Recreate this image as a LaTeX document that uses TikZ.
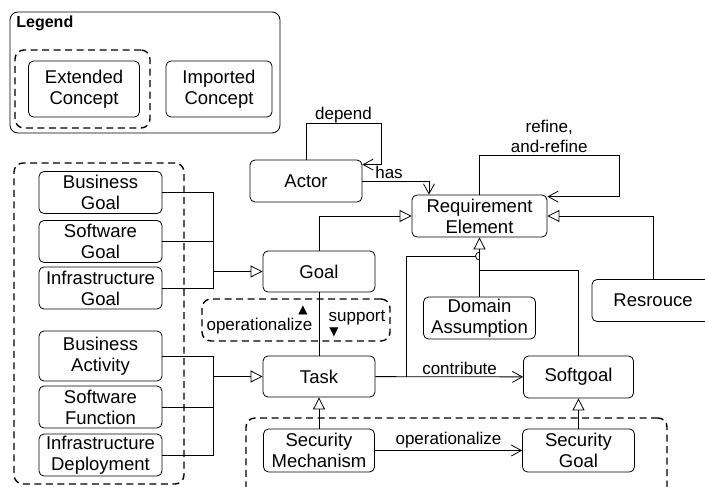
\documentclass[tikz,border=0pt]{standalone}
\usepackage{fontspec}
\setmainfont{Liberation Sans}
\newfontfamily\symfont{DejaVu Sans}
\usetikzlibrary{arrows.meta, positioning}

\begin{document}
\begin{tikzpicture}[x=1pt, y=-1pt, line width=0.8pt,
    concept/.style={draw, rectangle, rounded corners=5pt, align=center, inner sep=0pt,
        minimum width=112pt, minimum height=42pt, font=\fontsize{18.5}{21}\selectfont},
    wide/.style={minimum width=123pt},
    lbl/.style={font=\fontsize{17}{20}\selectfont, inner sep=2pt},
    dirmark/.style={font=\symfont\fontsize{12}{12}\selectfont, inner sep=0pt},
    group/.style={draw, line width=1.4pt, dash pattern=on 7pt off 4.5pt, rounded corners=9pt},
    gen/.style={-{Triangle[open, length=12pt, width=12pt]}},
    assoc/.style={-{Straight Barb[length=10pt, width=11pt]}}]
    \useasboundingbox (0,0) rectangle (705,487);

    % Legend
    \node (legendbox) [draw, rounded corners=8pt, minimum width=270pt, minimum height=121pt] at (145,72.5) {};
    \node (legend) [anchor=base west, inner sep=0pt, font=\bfseries\fontsize{16}{19}\selectfont] at (16,28) {Legend};
    \node (extgroup) [group, minimum width=135pt, minimum height=78pt] at (82.5,89) {};
    \node (ext) [concept, minimum width=111pt, minimum height=56pt] at (84,89) {Extended\\Concept};
    \node (imp) [concept, minimum width=106pt, minimum height=56pt] at (219,89) {Imported\\Concept};

    % Extended goals and tasks
    \node (leftgroup) [group, minimum width=170pt, minimum height=321pt] at (99,323.5) {};
    \node (bgoal) [concept, wide] at (100.5,192.5) {Business\\Goal};
    \node (sgoal) [concept, wide] at (100.5,241.5) {Software\\Goal};
    \node (igoal) [concept, wide] at (100.5,288) {Infrastructure\\Goal};
    \node (bact) [concept, wide, minimum height=50pt] at (100.5,356) {Business\\Activity};
    \node (sfunc) [concept, wide] at (100.5,407) {Software\\Function};
    \node (ideploy) [concept, wide] at (100.5,455) {Infrastructure\\Deployment};

    % Imported concepts
    \node (actor) [concept] at (306,181) {Actor};
    \node (req) [concept, minimum width=135pt] at (479.5,216) {Requirement\\Element};
    \node (res) [concept, minimum width=122pt] at (653,300.5) {Resrouce};
    \node (dom) [concept] at (479.5,318) {Domain\\Assumption};
    \node (goal) [concept, minimum height=41pt] at (319,271.5) {Goal};
    \node (task) [concept, minimum height=41pt] at (319,376.5) {Task};
    \node (soft) [concept, minimum width=110pt] at (578.5,377) {Softgoal};

    % Security concepts
    \node (secgroup) [group, minimum width=421pt, minimum height=90pt] at (456.5,463) {};
    \node (secmech) [concept, minimum width=111pt, minimum height=43pt] at (319,450.5) {Security\\Mechanism};
    \node (secgoal) [concept, minimum height=43pt] at (578.5,450.5) {Security\\Goal};

    % operationalize / support box
    \node (opsbox) [group, minimum width=188pt, minimum height=42pt] at (296,320) {};
    \node (opslbl) [lbl, anchor=base, inner sep=0pt] at (259.5,330) {operationalize};
    \node (up) [dirmark] at (303,310) {▲};
    \node (supp) [lbl, anchor=base, inner sep=0pt] at (357,321) {support};
    \node (down) [dirmark] at (334,332) {▼};

    % Trunks
    \coordinate (gtrunk) at (213,271.5);
    \coordinate (ttrunk) at (213,376.5);
    \draw (bgoal.east) -| (gtrunk);
    \draw (sgoal.east) -| (gtrunk);
    \draw (igoal.east) -| (gtrunk);
    \draw[gen] (gtrunk) -- (goal);
    \draw (bact.east) -| (ttrunk);
    \draw (sfunc.east) -| (ttrunk);
    \draw (ideploy.east) -| (ttrunk);
    \draw[gen] (ttrunk) -- (task);

    % Connections
    \coordinate (dep) at (381,123);
    \coordinate (ref) at (619,155);
    \draw[assoc] (actor.north) |- (dep) node[lbl, pos=0.75, above, inner sep=0pt] {depend}
        |- ([yshift=-5pt]actor.north east);
    \draw[assoc] (actor.east) -| ([xshift=-50.5pt]req.north) node[lbl, pos=0.2, above] {has};
    \draw[assoc] (req.north) |- (ref) node[lbl, pos=0.75, above, align=center] {refine,\\and-refine}
        |- ([yshift=-2pt]req.north east);
    \draw[gen] (res.north) |- (req.east);
    \draw[gen] (goal.north) |- (req.west);
    \draw[gen] (dom) -- (req);
    \draw (goal) -- (task);

    \coordinate (tsplit) at (406,376.5);
    \coordinate (hop) at (475.5,256);
    \coordinate (sjoin) at (479.5,270);
    \draw (tsplit) |- (hop);
    \draw (479.5,252) arc[start angle=90, end angle=270, radius=4pt];
    \draw (soft.north) |- (sjoin);

    \draw[assoc] (task) -- (soft) node[lbl, pos=0.57, above] {contribute};
    \draw[gen] (secmech) -- (task);
    \draw[gen] (secgoal) -- (soft);
    \draw[assoc] (secmech) -- (secgoal) node[lbl, midway, above] {operationalize};
\end{tikzpicture}
\end{document}
